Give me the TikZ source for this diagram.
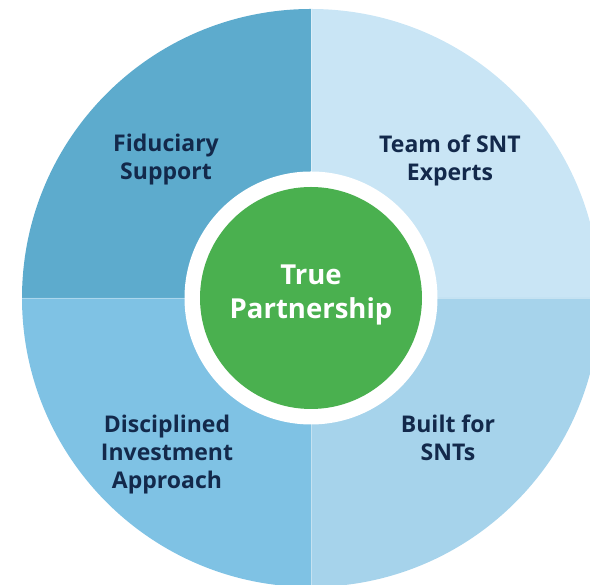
\documentclass[tikz,border=0pt]{standalone}
\usepackage{fontspec}
\setmainfont{Open Sans}
\usetikzlibrary{positioning}

\definecolor{quadTL}{HTML}{5DABCD}
\definecolor{quadTR}{HTML}{C9E5F5}
\definecolor{quadBL}{HTML}{7FC2E4}
\definecolor{quadBR}{HTML}{A6D3EB}
\definecolor{coreGreen}{HTML}{4AB04F}
\definecolor{navyText}{HTML}{13294B}

\begin{document}
\begin{tikzpicture}[
    x=1pt, y=1pt,
    label/.style={align=center, text=navyText, font=\bfseries\fontsize{23}{28}\selectfont},
    core/.style={circle, fill=coreGreen, minimum size=222pt, inner sep=0pt},
    ring/.style={circle, fill=white, minimum size=253pt, inner sep=0pt},
    divider/.style={white, opacity=0.35, line width=0.8pt},
]

\useasboundingbox (0,0) rectangle (590,585);
\clip (0,0) rectangle (590,585);

\coordinate (Mid) at (311,287);

% Quarters of the wheel
\fill[quadTL] (Mid) -- ++(-289,0) arc[start angle=180, end angle=90, radius=289] -- cycle;
\fill[quadTR] (Mid) -- ++(0,289) arc[start angle=90, end angle=0, radius=289] -- cycle;
\fill[quadBL] (Mid) -- ++(-289,0) arc[start angle=180, end angle=270, radius=289] -- cycle;
\fill[quadBR] (Mid) -- ++(0,-289) arc[start angle=270, end angle=360, radius=289] -- cycle;

% Thin seams between quarters
\draw[divider] (Mid) -- ++(0,289);
\draw[divider] (Mid) -- ++(0,-289);
\draw[divider] (Mid) -- ++(-289,0);
\draw[divider] (Mid) -- ++(289,0);

% Centre
\node (Ring) at (Mid) [ring] {};
\node (Core) at (Mid) [core] {};
\node (Partnership) at (311,290) [align=center, text=white, font=\bfseries\fontsize{27.5}{34}\selectfont] {True\\Partnership};

% Quarter labels
\node (Fiduciary) at (166,425) [label] {Fiduciary\\Support};
\node (Experts) at (450,425) [label] {Team of SNT\\Experts};
\node (Disciplined) at (167,130) [label] {Disciplined\\Investment\\Approach};
\node (BuiltFor) at (448,147) [label] {Built for\\SNTs};

\end{tikzpicture}
\end{document}
